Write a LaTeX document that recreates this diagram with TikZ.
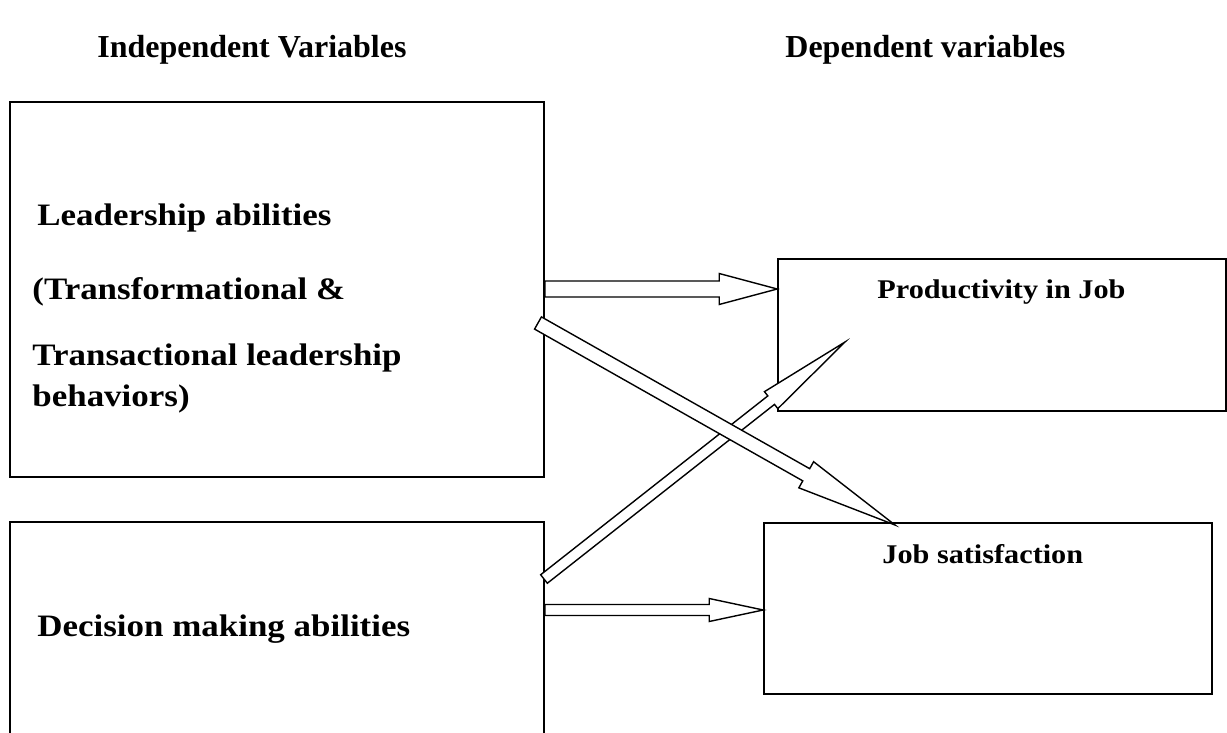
\documentclass[tikz,border=0pt]{standalone}
\usepackage{fontspec}
\setmainfont{Liberation Serif}
\newfontfamily\boxfont{Liberation Serif}[FakeStretch=1.12]
\usetikzlibrary{calc}
% hollow block arrow: #1 start, #2 end, #3 shaft half width, #4 head half width, #5 head length
\newcommand{\blockarrow}[5]{%
  \coordinate (hb) at ($(#2)!#5!(#1)$);
  \draw[arrowshape] ($(#1)!#3!90:(#2)$) -- ($(hb)!#3!-90:(#1)$) -- ($(hb)!#4!-90:(#1)$) -- (#2)
     -- ($(hb)!#4!90:(#1)$) -- ($(hb)!#3!90:(#1)$) -- ($(#1)!#3!-90:(#2)$) -- cycle;
}
\begin{document}
\begin{tikzpicture}[x=0.5pt,y=-0.5pt,
  boxstyle/.style={draw, line width=0.8pt, inner sep=0pt},
  arrowshape/.style={draw, fill=white, line width=0.7pt, line join=miter},
  hdr/.style={font=\fontsize{16}{19}\selectfont\bfseries, inner sep=0pt, anchor=base west},
  lbl/.style={font=\boxfont\bfseries\fontsize{15.6}{18}\selectfont, inner sep=0pt, anchor=base west},
  rlbl/.style={font=\boxfont\bfseries\fontsize{13.5}{16}\selectfont, inner sep=0pt, anchor=base west}]
\clip (0,0) rectangle (1227,733);
\fill[white] (0,0) rectangle (1227,733);

% headers
\node[hdr] (h1) at (97,58) {Independent Variables};
\node[hdr] (h2) at (785,58) {Dependent variables};

% boxes
\node[boxstyle, minimum width=267pt, minimum height=187.5pt] (b1) at (277,289.5) {};
\node[boxstyle, minimum width=267pt, minimum height=119pt] (b2) at (277,641) {};
\node[boxstyle, minimum width=224pt, minimum height=76pt] (b3) at (1002,335) {};
\node[boxstyle, minimum width=224pt, minimum height=85.5pt] (b4) at (988,608.5) {};

% texts
\node[lbl] (t1) at (37,226) {Leadership abilities};
\node[lbl] (t2) at (32,299) {(Transformational \&};
\node[lbl] (t3) at (32,365) {Transactional leadership};
\node[lbl] (t4) at (32,406) {behaviors)};
\node[lbl] (t5) at (37,636) {Decision making abilities};
\node[rlbl] (t6) at (877,298) {Productivity in Job};
\node[rlbl] (t7) at (882,563) {Job satisfaction};

% arrow end points
\coordinate (a1s) at (b1.east |- 0,289);
\coordinate (a1e) at (b3.west |- 0,289);
\coordinate (a2s) at (b2.east |- 0,610);
\coordinate (a2e) at (b4.west |- 0,610);
\coordinate (a3s) at (538,323);
\coordinate (a3e) at (895,525);
\coordinate (a4s) at (544,579);
\coordinate (a4e) at (845,342);

\blockarrow{a1s}{a1e}{4pt}{7.75pt}{29pt}
\blockarrow{a2s}{a2e}{2.75pt}{5.75pt}{27pt}
\blockarrow{a4s}{a4e}{2.7pt}{5.4pt}{47pt}
\blockarrow{a3s}{a3e}{3.5pt}{7.5pt}{51pt}
\end{tikzpicture}
\end{document}
